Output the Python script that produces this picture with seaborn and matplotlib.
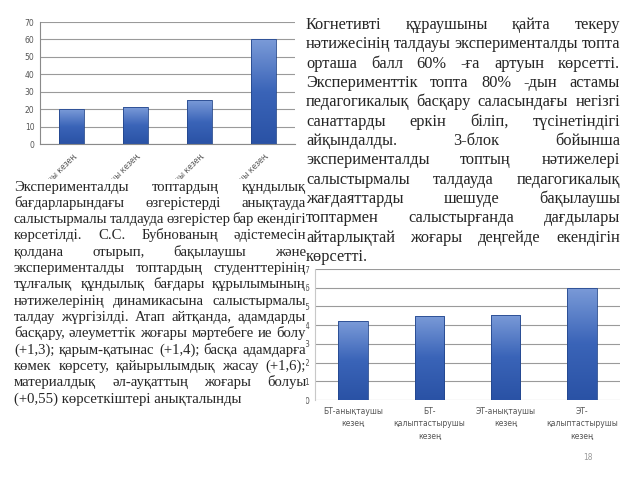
import numpy as np
import pandas as pd
import matplotlib
matplotlib.use("Agg")
import matplotlib.pyplot as plt
import seaborn as sns
from matplotlib.colors import LinearSegmentedColormap
from matplotlib.patches import Rectangle

# ---------------- data ----------------
categories = ["БТ-анықтаушы кезең", "БТ-қалыптастырушы кезең",
              "ЭТ-анықтаушы кезең", "ЭТ-қалыптастырушы кезең"]
bottom_labels = ["БТ-анықтаушы\nкезең", "БТ-\nқалыптастырушы\nкезең",
                 "ЭТ-анықтаушы\nкезең", "ЭТ-\nқалыптастырушы\nкезең"]
top_values = [20, 21, 25, 60]
bottom_values = [4.2, 4.5, 4.55, 6.0]
top_yticks = [0, 10, 20, 30, 40, 50, 60, 70]
bottom_yticks = [0, 1, 2, 3, 4, 5, 6, 7]

right_lines = [
    "Когнетивті құраушыны қайта текеру",
    "нәтижесінің талдауы эксперименталды топта",
    "орташа балл 60% -ға артуын көрсетті.",
    "Эксперименттік топта 80% -дын астамы",
    "педагогикалық басқару саласындағы негізгі",
    "санаттарды еркін біліп, түсінетіндігі",
    "айқындалды. 3-блок бойынша",
    "эксперименталды топтың нәтижелері",
    "салыстырмалы талдауда педагогикалық",
    "жағдаяттарды шешуде бақылаушы",
    "топтармен салыстырғанда дағдылары",
    "айтарлықтай жоғары деңгейде екендігін",
    "көрсетті.",
]
left_lines = [
    "Эксперименталды топтардың құндылық",
    "бағдарларындағы өзгерістерді анықтауда",
    "салыстырмалы талдауда өзгерістер бар екендігі",
    "көрсетілді. С.С. Бубнованың әдістемесін",
    "қолдана отырып, бақылаушы және",
    "эксперименталды топтардың студенттерінің",
    "тұлғалық құндылық бағдары құрылымының",
    "нәтижелерінің динамикасына салыстырмалы",
    "талдау жүргізілді. Атап айтқанда, адамдарды",
    "басқару, әлеуметтік жоғары мәртебеге ие болу",
    "(+1,3); қарым-қатынас (+1,4); басқа адамдарға",
    "көмек көрсету, қайырылымдық жасау (+1,6);",
    "материалдық әл-ауқаттың жоғары болуы",
    "(+0,55) көрсеткіштері анықталынды",
]
page_number = "18"

# ---------------- setup ----------------
sns.set_theme(style="white")
plt.rcParams['font.family'] = ['DejaVu Sans']
W, H = 640, 480
fig = plt.figure(figsize=(6.4, 4.8), dpi=100)
fig.patch.set_facecolor("white")

cmap = LinearSegmentedColormap.from_list("bar", ["#2a52a5", "#3a64b8", "#7b9bd8"])
grad = np.linspace(0, 1, 256).reshape(-1, 1)


def px(x0, y0, x1, y1):
    return [x0 / W, 1 - y1 / H, (x1 - x0) / W, (y1 - y0) / H]


def gradient_bars(ax):
    for p in ax.patches:
        x0, y0 = p.get_x(), p.get_y()
        w, h = p.get_width(), p.get_height()
        p.set_facecolor("none")
        p.set_edgecolor("#23468c")
        p.set_linewidth(0.6)
        p.set_zorder(3)
        im = ax.imshow(grad, cmap=cmap, origin="lower", aspect="auto",
                       extent=[x0, x0 + w, y0, y0 + h], zorder=2)
        im.set_clip_path(p)


def style_axes(ax, yticks, ymax):
    ax.set_ylim(0, ymax)
    ax.set_yticks(yticks)
    ax.yaxis.grid(True, color="#9a9a9a", linewidth=0.8)
    ax.set_axisbelow(True)
    for s in ["top", "right"]:
        ax.spines[s].set_visible(False)
    ax.spines["left"].set_color("#8a8a8a")
    ax.spines["left"].set_linewidth(0.8)
    ax.spines["bottom"].set_color("#8a8a8a")
    ax.spines["bottom"].set_linewidth(0.8)
    ax.set_xlabel("")
    ax.set_ylabel("")
    ax.tick_params(axis="y", labelsize=5.5, labelcolor="#555555", length=0, pad=4)
    ax.set_xlim(-0.5, 3.5)
    ax.set_xticks([0.5, 1.5, 2.5, 3.5], minor=True)
    ax.tick_params(axis="x", which="minor", length=4, color="#8a8a8a", direction="out")
    ax.tick_params(axis="x", which="major", length=0)


# ---------------- top chart ----------------
ax1 = fig.add_axes(px(40, 22, 295, 144))
df1 = pd.DataFrame({"cat": categories, "val": top_values})
sns.barplot(data=df1, x="cat", y="val", ax=ax1, width=0.39, color="#3a64b8")
gradient_bars(ax1)
style_axes(ax1, top_yticks, 70)
ax1.set_xticks(range(len(categories)))
ax1.set_xticklabels(categories, rotation=45, ha="right", va="top",
                    rotation_mode="anchor", fontsize=5.5, color="#555555")
ax1.tick_params(axis="x", which="major", pad=6)
ax1.set_xticks([-0.5, 0.5, 1.5, 2.5, 3.5], minor=True)

# ---------------- bottom chart ----------------
ax2 = fig.add_axes(px(315, 269, 620, 400))
df2 = pd.DataFrame({"cat": bottom_labels, "val": bottom_values})
sns.barplot(data=df2, x="cat", y="val", ax=ax2, width=0.39, color="#3a64b8")
gradient_bars(ax2)
style_axes(ax2, bottom_yticks, 7)
ax2.spines["left"].set_color("#c8c8c8")
ax2.spines["bottom"].set_visible(False)
ax2.tick_params(axis="x", which="minor", length=2, color="#bbbbbb")
ax2.set_xticks(range(len(bottom_labels)))
ax2.set_xticklabels(bottom_labels, fontsize=5.5, color="#555555", linespacing=1.5)
ax2.tick_params(axis="x", which="major", pad=5)

# white cover (text box hides lower part of rotated labels)
fig.patches.append(Rectangle((0, 1 - 420 / H), 306 / W, (420 - 179) / H,
                             transform=fig.transFigure, facecolor="white",
                             edgecolor="none", zorder=5))

# ---------------- justified text ----------------
renderer = fig.canvas.get_renderer()
serif = ['Liberation Serif', 'DejaVu Serif']


def justify(lines, x0, x1, yc0, dy, size):
    em = size * 100 / 72
    for i, line in enumerate(lines):
        y = 1 - (yc0 + i * dy + 0.24 * em) / H
        words = line.split()
        kw = dict(fontsize=size, family=serif, color="#262626", va="baseline",
                  ha="left", zorder=6)
        if i == len(lines) - 1 or len(words) == 1:
            fig.text(x0 / W, y, line, **kw)
            continue
        texts, widths = [], []
        for w in words:
            t = fig.text(0, y, w, **kw)
            texts.append(t)
            widths.append(t.get_window_extent(renderer).width)
        gap = ((x1 - x0) - sum(widths)) / (len(words) - 1)
        x = x0
        for t, w in zip(texts, widths):
            t.set_x(x / W)
            x += w + gap


justify(right_lines, 306, 620, 25, 19.35, 11.8)
justify(left_lines, 14, 306, 187, 16.3, 10.6)

fig.text(588 / W, 1 - 457 / H, page_number, fontsize=5.5, color="#9a9a9a",
         ha="center", va="center", zorder=6)

fig.savefig("out.png", dpi=100)
